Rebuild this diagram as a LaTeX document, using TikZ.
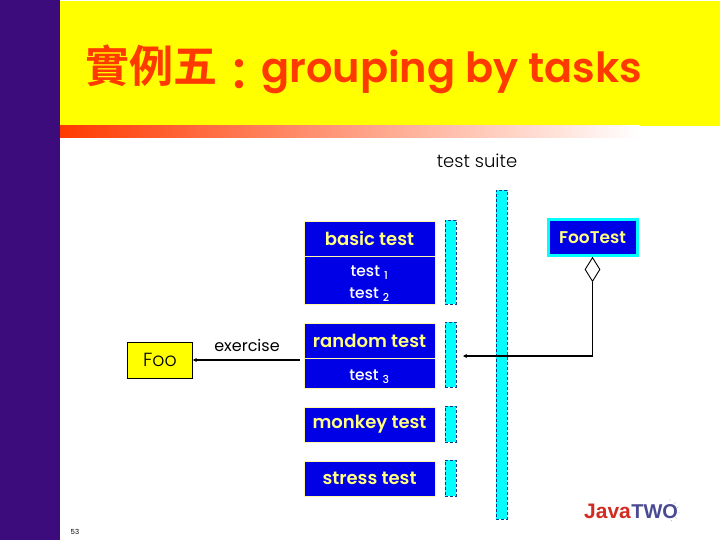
\documentclass[tikz,border=0pt]{standalone}
\usepackage{fontspec}
\setmainfont{Poppins}
\newfontfamily\mediumfont{Poppins Medium}
\newfontfamily\semifont{Poppins SemiBold}
\newfontfamily\lightfont{Poppins Light}
\newfontfamily\cjktitle{Noto Sans CJK TC Bold}
\newfontfamily\logofont{Liberation Sans}
\usetikzlibrary{positioning,arrows.meta,shapes.geometric}
\definecolor{sidepurple}{HTML}{3C0C7C}
\definecolor{titlered}{HTML}{FF3A00}
\definecolor{slideyellow}{HTML}{FFFF00}
\definecolor{boxblue}{HTML}{0000E6}
\definecolor{boxedge}{HTML}{FFF8A8}
\definecolor{barcyan}{HTML}{00FFFF}
\definecolor{bardash}{HTML}{0A3C8C}
\definecolor{labelyellow}{HTML}{FFFF80}
\definecolor{logored}{HTML}{D22B22}
\definecolor{logoblue}{HTML}{4A4A92}
\begin{document}
\begin{tikzpicture}[x=1pt,y=-1pt,
	testbox/.style={rectangle,draw=boxedge,fill=boxblue,line width=0.8pt,minimum width=131pt,inner sep=0pt,text=labelyellow,font=\fontsize{18}{20}\selectfont\semifont},
	listbox/.style={testbox,text=white,font=\fontsize{15.5}{22}\selectfont\mediumfont,align=center},
	lifebar/.style={rectangle,draw=bardash,fill=barcyan,densely dashed,line width=0.6pt,minimum width=11pt,inner sep=0pt},
	wire/.style={line width=1.5pt,-{Stealth[length=4pt,width=4pt]}}
	]
	\useasboundingbox (0,0) rectangle (720,540);
	% slide background
	\fill[sidepurple] (0,0) rectangle (60,540);
	\fill[slideyellow] (60,1) rectangle (720,126);
	\shade[left color=titlered,right color=white] (60,126) rectangle (640,138);
	\node[anchor=base west,inner sep=0pt,text=titlered,font=\fontsize{41.5}{44}\selectfont\semifont] (title) at (85,83) {{\fontsize{44}{44}\selectfont\cjktitle 實例五\raisebox{-8pt}{：}}grouping by tasks};
	\node[font=\fontsize{18}{20}\selectfont\lightfont] (suite) at (477,161) {test suite};
	% test groups
	\node[testbox,minimum height=35pt] (basic) at (369.5,238.5) {basic test};
	\node[listbox,minimum height=48pt,below=0pt of basic] (basiclist) {\rule{0pt}{16pt}test \textsubscript{1}\\test \textsubscript{2}};
	\node[testbox,minimum height=35pt] (random) at (369.5,340.5) {random test};
	\node[listbox,minimum height=30pt,below=0pt of random] (randomlist) {\rule{0pt}{16pt}test \textsubscript{3}};
	\node[testbox,minimum height=35pt] (monkey) at (369.5,424.5) {monkey test};
	\node[testbox,minimum height=35pt] (stress) at (369.5,478.5) {stress test};
	% bars beside the groups
	\node[lifebar,minimum height=84pt] (barbasic) at (450.5,262) {};
	\node[lifebar,minimum height=65pt] (barrandom) at (450.5,354.5) {};
	\node[lifebar,minimum height=36pt] (barmonkey) at (450.5,424) {};
	\node[lifebar,minimum height=36pt] (barstress) at (450.5,478) {};
	\node[lifebar,minimum height=329pt] (barsuite) at (501.5,354.5) {};
	% classes
	\node[rectangle,draw=barcyan,fill=boxblue,line width=3pt,minimum width=89pt,minimum height=36pt,inner sep=0pt,text=labelyellow,font=\fontsize{17}{20}\selectfont\semifont] (footest) at (592.5,237.5) {FooTest};
	\node[diamond,draw=black,fill=white,line width=0.9pt,minimum width=15pt,minimum height=24pt,inner sep=0pt,below=0pt of footest] (owner) {};
	\node[rectangle,draw=black,fill=slideyellow,line width=0.8pt,minimum width=65pt,minimum height=36pt,inner sep=0pt,font=\fontsize{19}{22}\selectfont\lightfont] (foo) at (160,360) {Foo};
	\node[font=\fontsize{16}{18}\selectfont] (exercise) at (247,345) {exercise};
	% connectors
	\coordinate (bend) at (owner.south |- 0,356);
	\coordinate (hit) at (463,356);
	\coordinate (start) at (300,360);
	\draw[line width=0.9pt] (owner.south) -- (bend);
	\draw[wire] (bend) -- (hit);
	\draw[wire] (start) -- (foo.east);
	% footer
	\node[font=\fontsize{7}{8}\selectfont] (page) at (75,532) {53};
	\node[anchor=base west,inner sep=0pt,text=logored,font=\fontsize{21}{22}\selectfont\logofont\bfseries] (java) at (584,518) {Java};
	\node[anchor=base west,inner sep=0pt,text=logoblue,font=\fontsize{20}{22}\selectfont\logofont\bfseries] (two) at (java.base east) {TWO};
	\foreach \ang in {-80,-50,-20,10,40,70}
		\draw[logoblue,line width=0.4pt,densely dotted] (668,511) ++(\ang:10) -- ++(\ang:2.5);
\end{tikzpicture}
\end{document}
